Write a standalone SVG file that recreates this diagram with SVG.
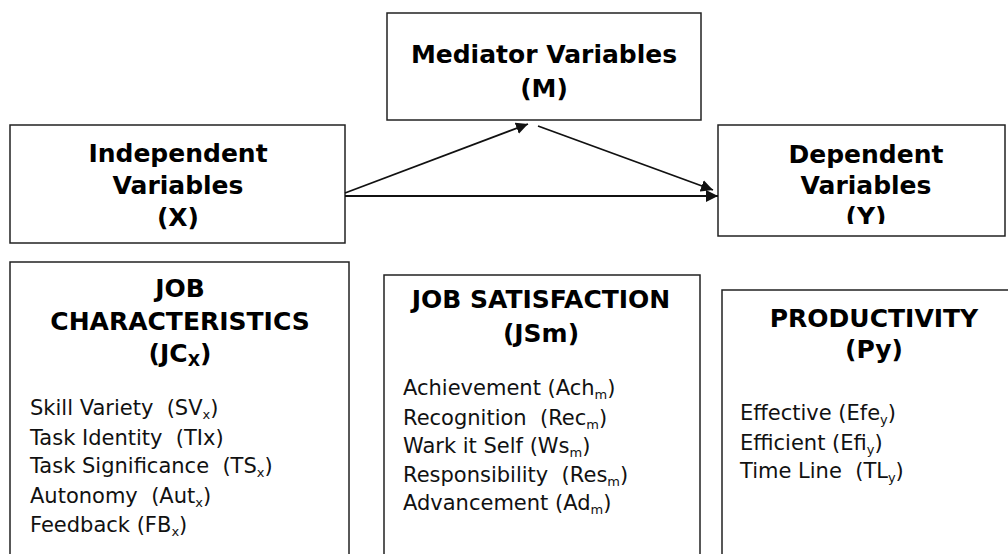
<svg xmlns="http://www.w3.org/2000/svg" width="1008" height="554" viewBox="0 0 1008 554">
<style>
.box{fill:#fff;stroke:#222;stroke-width:1.5}
.h{font-family:"DejaVu Sans",Verdana,sans-serif;font-weight:bold;font-size:25px;fill:#000;text-anchor:middle}
.t{font-family:"DejaVu Sans",Verdana,sans-serif;font-size:21px;fill:#111}
.sub{font-size:13px}
.ln{stroke:#111;stroke-width:1.8;fill:none;marker-end:url(#ah)}
</style>
<defs>
<marker id="ah" viewBox="0 0 12 12" refX="12" refY="6" markerWidth="12" markerHeight="12" markerUnits="userSpaceOnUse" orient="auto"><path d="M0,0 L12,6 L0,12 z" fill="#111"/></marker>
<clipPath id="cy"><rect x="718" y="125" width="290" height="99"/></clipPath>
</defs>
<g id="mediator">
<rect class="box" x="387" y="13" width="314" height="107"/>
<text class="h" x="544" y="63">Mediator Variables</text>
<text class="h" x="544" y="97">(M)</text>
</g>
<g id="independent">
<rect class="box" x="10" y="125" width="335" height="118"/>
<text class="h" x="178" y="162">Independent</text>
<text class="h" x="178" y="194">Variables</text>
<text class="h" x="178" y="226">(X)</text>
</g>
<g id="dependent">
<rect class="box" x="718" y="125" width="287" height="111"/>
<g clip-path="url(#cy)">
<text class="h" x="866" y="163">Dependent</text>
<text class="h" x="866" y="194">Variables</text>
<text class="h" x="866" y="225">(Y)</text>
</g>
</g>
<g id="connectors">
<line class="ln" x1="345" y1="193" x2="528" y2="124"/>
<line class="ln" x1="538" y1="126" x2="713" y2="190"/>
<line class="ln" x1="345" y1="196" x2="718" y2="196"/>
</g>
<g id="job-characteristics">
<rect class="box" x="10" y="262" width="339" height="300"/>
<text class="h" x="180" y="297">JOB</text>
<text class="h" x="180" y="330">CHARACTERISTICS</text>
<text class="h" x="180" y="362">(JC<tspan font-size="16" dy="4">X</tspan><tspan dy="-4">)</tspan></text>
<text class="t" x="30" y="415" xml:space="preserve">Skill Variety  (SV<tspan class="sub" dy="4">x</tspan><tspan dy="-4">)</tspan></text>
<text class="t" x="30" y="445" xml:space="preserve">Task Identity  (TIx)</text>
<text class="t" x="30" y="473" xml:space="preserve">Task Significance  (TS<tspan class="sub" dy="4">x</tspan><tspan dy="-4">)</tspan></text>
<text class="t" x="30" y="503" xml:space="preserve">Autonomy  (Aut<tspan class="sub" dy="4">x</tspan><tspan dy="-4">)</tspan></text>
<text class="t" x="30" y="532">Feedback (FB<tspan class="sub" dy="4">x</tspan><tspan dy="-4">)</tspan></text>
</g>
<g id="job-satisfaction">
<rect class="box" x="384" y="275" width="316" height="290"/>
<text class="h" x="541" y="308">JOB SATISFACTION</text>
<text class="h" x="541" y="342">(JSm)</text>
<text class="t" x="403" y="395">Achievement (Ach<tspan class="sub" dy="4">m</tspan><tspan dy="-4">)</tspan></text>
<text class="t" x="403" y="425" xml:space="preserve">Recognition  (Rec<tspan class="sub" dy="4">m</tspan><tspan dy="-4">)</tspan></text>
<text class="t" x="403" y="453">Wark it Self (Ws<tspan class="sub" dy="4">m</tspan><tspan dy="-4">)</tspan></text>
<text class="t" x="403" y="482" xml:space="preserve">Responsibility  (Res<tspan class="sub" dy="4">m</tspan><tspan dy="-4">)</tspan></text>
<text class="t" x="403" y="510">Advancement (Ad<tspan class="sub" dy="4">m</tspan><tspan dy="-4">)</tspan></text>
</g>
<g id="productivity">
<rect class="box" x="722" y="290" width="300" height="280"/>
<text class="h" x="874" y="327">PRODUCTIVITY</text>
<text class="h" x="874" y="358">(Py)</text>
<text class="t" x="740" y="420">Effective (Efe<tspan class="sub" dy="4">y</tspan><tspan dy="-4">)</tspan></text>
<text class="t" x="740" y="450">Efficient (Efi<tspan class="sub" dy="4">y</tspan><tspan dy="-4">)</tspan></text>
<text class="t" x="740" y="478" xml:space="preserve">Time Line  (TL<tspan class="sub" dy="4">y</tspan><tspan dy="-4">)</tspan></text>
</g>
</svg>
